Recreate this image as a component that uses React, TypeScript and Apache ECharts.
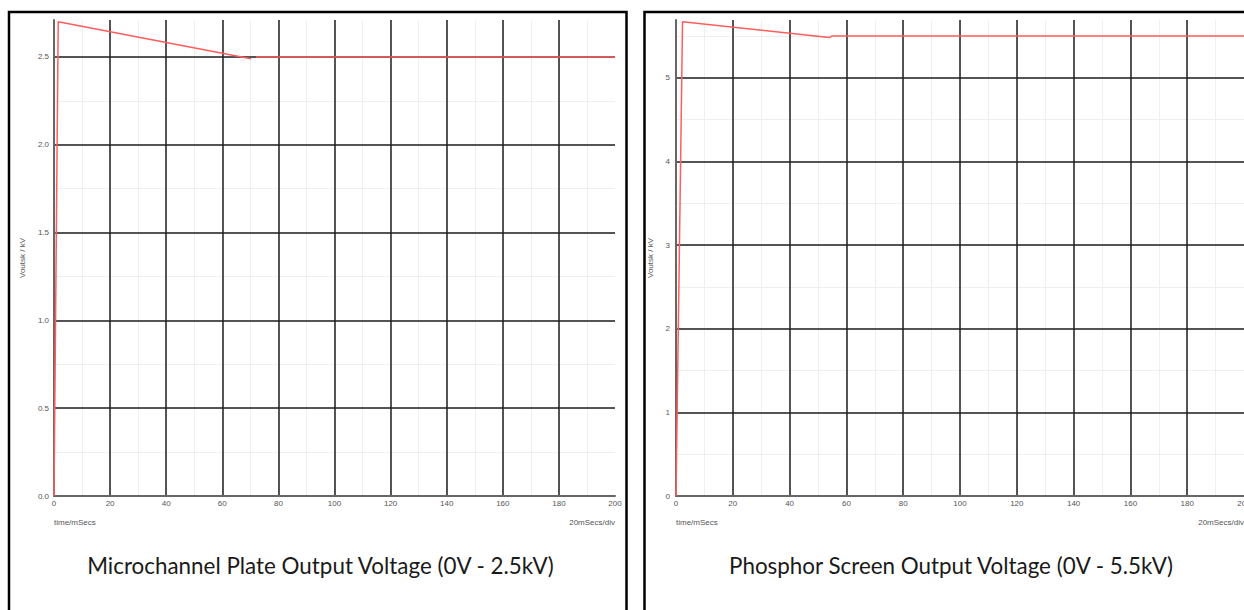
import React, { useEffect, useRef } from "react";
import * as echarts from "echarts";

// Microchannel plate supply: time (ms) vs output (kV)
const mcpTime = [0, 1.5, 70.2, 71, 72, 200];
const mcpVolt: (number | string)[] = [0, 2.7, 2.49, "-", 2.5, 2.5];

// Phosphor screen supply: time (ms) vs output (kV)
const psTime = [0, 2.3, 54, 55, 200];
const psVolt = [0, 5.67, 5.48, 5.5, 5.5];

const mcpYTicks = ["0.0", "0.5", "1.0", "1.5", "2.0", "2.5"];
const psYTicks = ["0", "1", "2", "3", "4", "5"];

const mcpTitle = "Microchannel Plate Output Voltage (0V - 2.5kV)";
const psTitle = "Phosphor Screen Output Voltage (0V - 5.5kV)";
const yName = "Voutsk / kV";
const xName = "time/mSecs";
const scaleNote = "20mSecs/div";

const pairs = (xs: number[], ys: (number | string)[]) => xs.map((x, i) => [x, ys[i]]);

const labelFont = { fontSize: 8, color: "#555", fontFamily: "Liberation Sans, Arial, sans-serif" };

function majorX(gridIndex: number) {
  return {
    type: "value" as const,
    gridIndex,
    min: 0,
    max: 200,
    interval: 20,
    z: 2,
    axisLine: { show: true, onZero: false, lineStyle: { color: "#666", width: 2 } },
    axisTick: { show: false },
    axisLabel: { ...labelFont, margin: 3, showMaxLabel: true },
    splitLine: { show: true, showMinLine: false, showMaxLine: false, lineStyle: { color: "#1e1e1e", width: 1.5 } },
  };
}

function minorX(gridIndex: number) {
  return {
    type: "value" as const,
    gridIndex,
    min: 0,
    max: 200,
    interval: 10,
    z: 1,
    position: "bottom" as const,
    axisLine: { show: false },
    axisTick: { show: false },
    axisLabel: { show: false },
    splitLine: { show: true, showMinLine: false, showMaxLine: false, lineStyle: { color: "#efefef", width: 1 } },
  };
}

function majorY(gridIndex: number, max: number, interval: number, ticks: string[], nameGap: number, labelMargin: number) {
  return {
    type: "value" as const,
    gridIndex,
    min: 0,
    max,
    interval,
    z: 2,
    name: yName,
    nameLocation: "middle" as const,
    nameGap,
    nameTextStyle: { ...labelFont },
    axisLine: { show: true, onZero: false, lineStyle: { color: "#666", width: 2 } },
    axisTick: { show: false },
    axisLabel: {
      ...labelFont,
      margin: labelMargin,
      showMaxLabel: false,
      formatter: (v: number) => ticks[Math.round(v / interval)] ?? "",
    },
    splitLine: { show: true, showMinLine: false, showMaxLine: false, lineStyle: { color: "#1e1e1e", width: 1.5 } },
  };
}

function minorY(gridIndex: number, max: number, interval: number) {
  return {
    type: "value" as const,
    gridIndex,
    min: 0,
    max,
    interval,
    z: 1,
    position: "left" as const,
    axisLine: { show: false },
    axisTick: { show: false },
    axisLabel: { show: false },
    splitLine: { show: true, showMinLine: false, showMaxLine: false, lineStyle: { color: "#efefef", width: 1 } },
  };
}

const traceStyle = { color: "#ff5c5c", width: 1.5 };

export default function App() {
  const ref = useRef<HTMLDivElement>(null);

  useEffect(() => {
    if (!ref.current) return;
    const chart = echarts.init(ref.current, null, { renderer: "svg" });
    const titleFont = { fontSize: 22.4, fill: "#1a1a1a", fontFamily: "Lato, sans-serif" };
    chart.setOption({
      animation: false,
      backgroundColor: "#ffffff",
      grid: [
        { left: 54, top: 20, width: 561, height: 476, outerBoundsMode: "none" },
        { left: 676, top: 20, width: 568, height: 476, outerBoundsMode: "none" },
      ],
      xAxis: [majorX(0), minorX(0), majorX(1), minorX(1)],
      yAxis: [
        majorY(0, 2.71, 0.5, mcpYTicks, 28, 5),
        minorY(0, 2.71, 0.25),
        majorY(1, 5.69, 1, psYTicks, 22, 6),
        minorY(1, 5.69, 0.5),
      ],
      series: [
        {
          type: "line",
          xAxisIndex: 0,
          yAxisIndex: 0,
          data: pairs(mcpTime, mcpVolt),
          showSymbol: false,
          connectNulls: false,
          lineStyle: traceStyle,
          z: 5,
        },
        {
          type: "line",
          xAxisIndex: 2,
          yAxisIndex: 2,
          data: pairs(psTime, psVolt),
          showSymbol: false,
          lineStyle: traceStyle,
          z: 5,
        },
      ],
      graphic: [
        { type: "rect", shape: { x: 9, y: 12, width: 617.5, height: 640 }, style: { fill: "none", stroke: "#000", lineWidth: 2.5 }, z: 10 },
        { type: "rect", shape: { x: 644.5, y: 12, width: 700, height: 640 }, style: { fill: "none", stroke: "#000", lineWidth: 2.5 }, z: 10 },
        { type: "text", x: 54, y: 522, style: { text: xName, ...labelFont, fill: "#555", align: "left", verticalAlign: "middle" } },
        { type: "text", x: 615, y: 522, style: { text: scaleNote, ...labelFont, fill: "#555", align: "right", verticalAlign: "middle" } },
        { type: "text", x: 676, y: 522, style: { text: xName, ...labelFont, fill: "#555", align: "left", verticalAlign: "middle" } },
        { type: "text", x: 1244, y: 522, style: { text: scaleNote, ...labelFont, fill: "#555", align: "right", verticalAlign: "middle" } },
        { type: "text", x: 320.5, y: 565, style: { text: mcpTitle, ...titleFont, align: "center", verticalAlign: "middle" } },
        { type: "text", x: 951, y: 565, style: { text: psTitle, ...titleFont, align: "center", verticalAlign: "middle" } },
      ],
    });
    return () => chart.dispose();
  }, []);

  return (
    <div
      ref={ref}
      style={{ position: "absolute", left: 0, top: 0, width: 1244, height: 610 }}
    />
  );
}
